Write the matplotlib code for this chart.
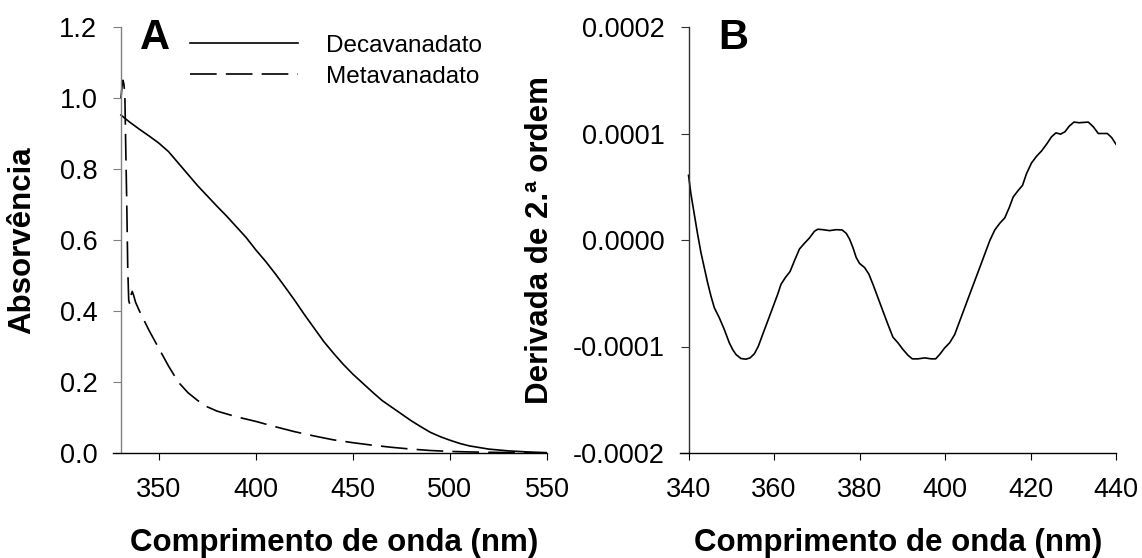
import matplotlib.pyplot as plt

plt.rcParams['font.family'] = ['Liberation Sans', 'DejaVu Sans']
plt.rcParams['axes.unicode_minus'] = False

# Espectros UV-Vis (painel A)
comp_deca = [330.5, 332.5, 335, 340, 345, 350, 355, 360, 365, 370, 375, 380, 385, 390,
             395, 400, 405, 410, 415, 420, 425, 430, 435, 440, 445, 450, 455, 460, 465,
             470, 475, 480, 485, 490, 495, 500, 505, 510, 520, 530, 540, 550]
abs_deca = [0.952, 0.943, 0.932, 0.912, 0.893, 0.873, 0.849, 0.817, 0.785, 0.753, 0.724,
            0.695, 0.667, 0.637, 0.607, 0.572, 0.540, 0.505, 0.468, 0.430, 0.390, 0.352,
            0.314, 0.281, 0.250, 0.222, 0.197, 0.172, 0.148, 0.129, 0.110, 0.091, 0.074,
            0.058, 0.046, 0.036, 0.027, 0.020, 0.011, 0.006, 0.003, 0.001]

comp_meta = [330.5, 331.0, 331.5, 332.0, 332.5, 333.0, 333.5, 334.0, 334.5, 335.0, 335.7,
             336.3, 337.0, 338.0, 340, 345, 350, 355, 360, 365, 370, 375, 380, 390, 400,
             410, 420, 430, 440, 450, 460, 470, 480, 490, 500, 510, 520, 535, 550]
abs_meta = [1.00, 1.03, 1.05, 1.04, 1.01, 0.85, 0.70, 0.52, 0.43, 0.42, 0.445, 0.455, 0.445,
            0.425, 0.40, 0.345, 0.295, 0.245, 0.20, 0.17, 0.148, 0.13, 0.118, 0.102, 0.089,
            0.074, 0.060, 0.048, 0.037, 0.029, 0.022, 0.016, 0.011, 0.007, 0.0045, 0.003,
            0.002, 0.001, 0.0]

# Derivada de 2.a ordem (painel B), valores em unidades de 1e-5
comp_der = [340.00, 340.55, 341.33, 342.11, 342.89, 343.67, 344.45, 345.23, 346.02, 347.19,
            348.36, 349.53, 350.31, 351.09, 352.27, 353.44, 354.38, 355.39, 356.33, 357.34,
            358.52, 359.69, 360.86, 361.64, 362.66, 363.75, 364.77, 365.94, 367.11, 368.28,
            369.45, 370.23, 371.41, 372.97, 374.53, 375.94, 376.88, 377.66, 378.44, 379.22,
            380.00, 381.17, 382.19, 383.13, 384.30, 385.47, 386.64, 387.81, 388.98, 390.16,
            391.33, 392.34, 393.67, 395.23, 396.80, 397.81, 398.75, 399.92, 401.09, 402.27,
            403.44, 404.61, 405.78, 406.95, 408.13, 409.30, 410.47, 411.64, 412.81, 413.98,
            415.00, 415.94, 417.11, 418.13, 419.06, 420.23, 421.41, 422.58, 423.75, 424.92,
            425.94, 427.03, 428.05, 429.06, 430.16, 431.41, 432.34, 433.52, 434.69, 435.86,
            437.03, 437.97, 438.98, 440.00]
der_e5 = [6.07, 4.34, 2.45, 0.57, -1.16, -2.58, -3.99, -5.25, -6.35, -7.30,
          -8.40, -9.65, -10.28, -10.75, -11.13, -11.19, -11.07, -10.69, -9.97, -8.87,
          -7.61, -6.35, -5.09, -4.15, -3.52, -2.96, -1.95, -0.85, -0.31, 0.19,
          0.82, 1.01, 0.97, 0.88, 0.97, 0.94, 0.63, 0.09, -0.69, -1.64,
          -2.20, -2.58, -3.21, -4.15, -5.41, -6.67, -7.92, -9.12, -9.65, -10.28,
          -10.82, -11.16, -11.16, -11.07, -11.16, -11.16, -10.75, -10.13, -9.65, -8.87,
          -7.61, -6.35, -5.09, -3.84, -2.58, -1.32, -0.06, 0.94, 1.57, 2.08,
          3.02, 4.03, 4.65, 5.13, 6.23, 7.23, 7.86, 8.36, 8.99, 9.69,
          10.06, 9.94, 10.16, 10.69, 11.07, 11.01, 11.04, 11.07, 10.63, 10.00,
          10.00, 10.00, 9.62, 8.99]
der = [v * 1e-5 for v in der_e5]

ticks_a = [0.0, 0.2, 0.4, 0.6, 0.8, 1.0, 1.2]
xticks_a = [350, 400, 450, 500, 550]
ticks_b = [-0.0002, -0.0001, 0.0, 0.0001, 0.0002]
rotulos_b = ['-0.0002', '-0.0001', '0.0000', '0.0001', '0.0002']
xticks_b = [340, 360, 380, 400, 420, 440]

fig = plt.figure(figsize=(11.42, 5.58), dpi=100)
axA = fig.add_axes([113/1142, 105/558, 434/1142, 426/558])
axB = fig.add_axes([680/1142, 105/558, 436/1142, 426/558])

FS_TICK = 19.5
FS_LAB = 22.5


def estilo(ax, cor_y):
    for s in ['top', 'right']:
        ax.spines[s].set_visible(False)
    ax.spines['left'].set_color(cor_y)
    ax.spines['bottom'].set_color('black')
    ax.spines['left'].set_linewidth(1.0)
    ax.spines['bottom'].set_linewidth(1.0)
    ax.tick_params(axis='y', direction='out', length=6, width=0.8, color=cor_y,
                   labelsize=FS_TICK, pad=11)
    ax.tick_params(axis='x', direction='out', length=5, width=0.8,
                   labelsize=FS_TICK, pad=12)


# Painel A
axA.plot(comp_deca, abs_deca, color='black', lw=1.2, label='Decavanadato')
axA.plot(comp_meta, abs_meta, color='black', lw=1.2, dashes=(16, 5.5), label='Metavanadato')
axA.set_xlim(326.4, 550)
axA.set_ylim(0, 1.2)
axA.spines['left'].set_position(('data', 330.5))
axA.set_yticks(ticks_a)
axA.set_yticklabels(['%.1f' % t for t in ticks_a])
axA.set_xticks(xticks_a)
estilo(axA, '#808080')
axA.set_xlabel('Comprimento de onda (nm)', fontsize=FS_LAB, fontweight='bold')
axA.set_ylabel('Absorvência', fontsize=FS_LAB, fontweight='bold', va='center')
axA.yaxis.set_label_coords((22 - 113) / 434, 0.5)
axA.xaxis.set_label_coords((334 - 113) / 434, -0.175)
axA.text(0.062, 0.948, 'A', transform=axA.transAxes, fontsize=30, fontweight='bold',
         va='baseline')
axA.legend(loc='upper left', bbox_to_anchor=((190 - 113) / 434, 0.982), frameon=False,
           fontsize=17.5, handlelength=4.45, handletextpad=1.15, labelspacing=0.38,
           borderaxespad=0, borderpad=0)

# Painel B
axB.plot(comp_der, der, color='black', lw=1.2, solid_joinstyle='round')
axB.set_xlim(338.0, 440)
axB.set_ylim(-0.0002, 0.0002)
axB.spines['left'].set_position(('data', 340))
axB.set_yticks(ticks_b)
axB.set_yticklabels(rotulos_b)
axB.set_xticks(xticks_b)
estilo(axB, '#303030')
axB.set_xlabel('Comprimento de onda (nm)', fontsize=FS_LAB, fontweight='bold')
axB.set_ylabel('Derivada de 2.ª ordem', fontsize=FS_LAB, fontweight='bold', va='center')
axB.yaxis.set_label_coords((540 - 680) / 436, 0.5)
axB.xaxis.set_label_coords(0.5, -0.175)
axB.text(0.087, 0.948, 'B', transform=axB.transAxes, fontsize=30, fontweight='bold',
         va='baseline')

fig.savefig('out.png', dpi=100)
